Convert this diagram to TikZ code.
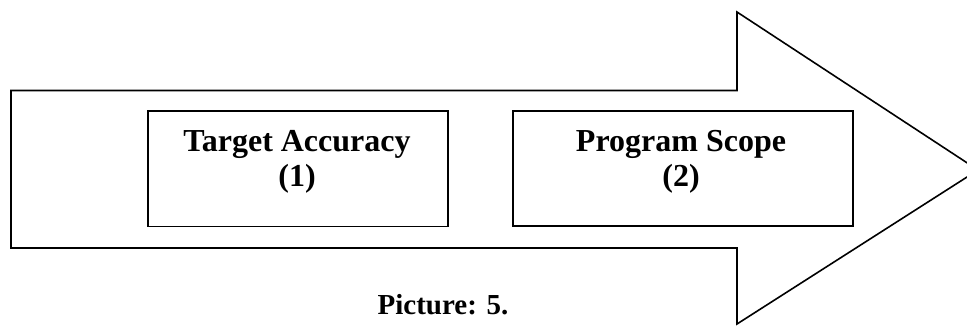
\documentclass[tikz,border=0pt]{standalone}
\usepackage{fontspec}
\setmainfont{Liberation Serif}
\begin{document}
\begin{tikzpicture}[x=1pt,y=-1pt,
  outline/.style={draw=black,line width=1.6pt,line join=miter},
  boxnode/.style={draw=black,line width=1.6pt,inner sep=0pt},
  txt/.style={font=\fontsize{32}{35}\selectfont\bfseries,align=center,inner sep=0pt},
  captxt/.style={font=\fontsize{29}{33}\selectfont\bfseries,inner sep=0pt}]
\useasboundingbox (0,0) rectangle (967,325);
% big arrow
\draw[outline] (11,90.5) -- (737,90.5) -- (737,12) -- (978,170) -- (737,324) -- (737,248) -- (11,248) -- cycle;
% boxes
\node[boxnode,minimum width=300pt,minimum height=115.5pt] (b1) at (298,168.75) {};
\node[boxnode,minimum width=340pt,minimum height=115pt] (b2) at (683,168.5) {};
\node[txt] (t1) at (297,162) {Target Accuracy\\(1)};
\node[txt] (t2) at (681,162) {Program Scope\\(2)};
\node[captxt,anchor=base] (cap) at (443,314) {Picture: 5.};
\end{tikzpicture}
\end{document}
